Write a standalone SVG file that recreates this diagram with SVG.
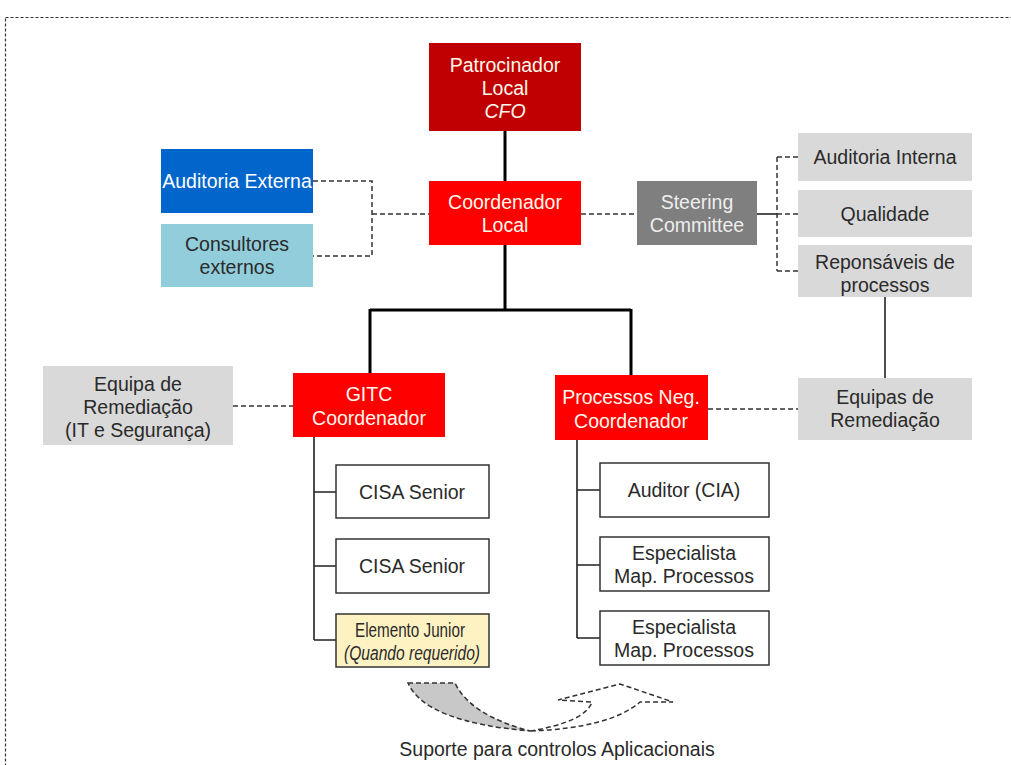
<svg xmlns="http://www.w3.org/2000/svg" width="1011" height="765" viewBox="0 0 1011 765">
<style>
text{font-family:"Liberation Sans",Arial,sans-serif;font-size:19.5px;text-anchor:middle}
.w{fill:#FFF8EC}
.d{fill:#2a2a2a}
.thick{stroke:#000;stroke-width:3;fill:none}
.thin{stroke:#222;stroke-width:1.6;fill:none}
.dash{stroke:#333;stroke-width:1.5;stroke-dasharray:5,3;fill:none}
.child{fill:#fff;stroke:#333;stroke-width:1.5}
.grey{fill:#D9D9D9}
</style>
<rect x="5.5" y="17.5" width="1012" height="760" fill="none" stroke="#333" stroke-width="1.2" stroke-dasharray="3,2"/>
<g id="connectors">
<path class="thick" d="M505 131V181"/>
<path class="thick" d="M505 245V310M370 310H631M370 309V373M631 309V375"/>
<path class="dash" d="M313 181H372V256H313M372 214H429"/>
<path class="dash" d="M581 214H637"/>
<path class="thin" d="M757 214H777"/>
<path class="dash" d="M777 157V271M777 157H798M777 214H798M777 271H798"/>
<path class="thin" d="M885 297V378"/>
<path class="dash" d="M708 409H798"/>
<path class="dash" d="M233 406H293"/>
<path class="thin" d="M314 437V640M314 492H336M314 566H336M314 640H336"/>
<path class="thin" d="M577 440V638M577 490H600M577 565H600M577 638H600"/>
</g>
<g id="patrocinador"><rect x="429" y="43" width="152" height="88" fill="#C00000"/>
<text class="w" x="505" y="71.5">Patrocinador</text><text class="w" x="505" y="94.5">Local</text><text class="w" x="505" y="117.5" font-style="italic">CFO</text></g>
<g id="coordenador"><rect x="429" y="181" width="152" height="64" fill="#FF0000"/>
<text class="w" x="505" y="208.5">Coordenador</text><text class="w" x="505" y="231.5">Local</text></g>
<g id="auditoria-externa"><rect x="161" y="149" width="152" height="64" fill="#0066CC"/>
<text x="237" y="187.5" fill="#fff">Auditoria Externa</text></g>
<g id="consultores"><rect x="161" y="224" width="152" height="63" fill="#92CDDC"/>
<text class="d" x="237" y="250.5">Consultores</text><text class="d" x="237" y="273.5">externos</text></g>
<g id="steering"><rect x="637" y="181" width="120" height="64" fill="#7F7F7F"/>
<text x="697" y="208.5" fill="#EEE">Steering</text><text x="697" y="231.5" fill="#EEE">Committee</text></g>
<g id="auditoria-interna"><rect class="grey" x="798" y="133" width="174" height="48"/>
<text class="d" x="885" y="163.5">Auditoria Interna</text></g>
<g id="qualidade"><rect class="grey" x="798" y="190" width="174" height="47"/>
<text class="d" x="885" y="220.5">Qualidade</text></g>
<g id="responsaveis"><rect class="grey" x="798" y="245" width="174" height="52"/>
<text class="d" x="885" y="268.5">Reponsáveis de</text><text class="d" x="885" y="291.5">processos</text></g>
<g id="equipas-remediacao"><rect class="grey" x="798" y="378" width="174" height="62"/>
<text class="d" x="885" y="403.5">Equipas de</text><text class="d" x="885" y="426.5">Remediação</text></g>
<g id="equipa-remediacao-it"><rect class="grey" x="43" y="366" width="190" height="79"/>
<text class="d" x="138" y="390.5">Equipa de</text><text class="d" x="138" y="413.5">Remediação</text><text class="d" x="138" y="436.5">(IT e Segurança)</text></g>
<g id="gitc"><rect x="293" y="373" width="152" height="64" fill="#FF0000"/>
<text class="w" x="369" y="400.5">GITC</text><text class="w" x="369" y="424.5">Coordenador</text></g>
<g id="processos"><rect x="555" y="375" width="153" height="65" fill="#FF0000"/>
<text class="w" x="631" y="403.5">Processos Neg.</text><text class="w" x="631" y="427.5">Coordenador</text></g>
<g id="cisa1"><rect class="child" x="336" y="465" width="153" height="53"/><text class="d" x="412" y="498.5">CISA Senior</text></g>
<g id="cisa2"><rect class="child" x="336" y="539" width="153" height="54"/><text class="d" x="412" y="572.5">CISA Senior</text></g>
<g id="junior"><rect x="336" y="614" width="153" height="53" fill="#FFF2C2" stroke="#333" stroke-width="1.5"/>
<text class="d" x="410" y="636.5" font-size="15.5" textLength="110" lengthAdjust="spacingAndGlyphs">Elemento Junior</text><text class="d" x="412" y="659.5" font-size="15.5" font-style="italic" textLength="136" lengthAdjust="spacingAndGlyphs">(Quando requerido)</text></g>
<g id="auditor"><rect class="child" x="600" y="463" width="169" height="54"/><text class="d" x="684" y="496.5">Auditor (CIA)</text></g>
<g id="especialista1"><rect class="child" x="600" y="537" width="169" height="54"/><text class="d" x="684" y="559.5">Especialista</text><text class="d" x="684" y="582.5">Map. Processos</text></g>
<g id="especialista2"><rect class="child" x="600" y="611" width="169" height="54"/><text class="d" x="684" y="633.5">Especialista</text><text class="d" x="684" y="656.5">Map. Processos</text></g>
<g id="suporte">
<path d="M408 683H455Q470 715 530 731Q425 722 408 683Z" fill="#C8C8C8" stroke="#333" stroke-width="1.5" stroke-dasharray="5,3"/>
<path d="M530 731Q585 722 592 702L558 700L620 684L673 702L640 702Q610 728 530 731Z" fill="none" stroke="#333" stroke-width="1.5" stroke-dasharray="5,3"/>
<text class="d" x="557" y="756" font-size="19">Suporte para controlos Aplicacionais</text>
</g>
</svg>
